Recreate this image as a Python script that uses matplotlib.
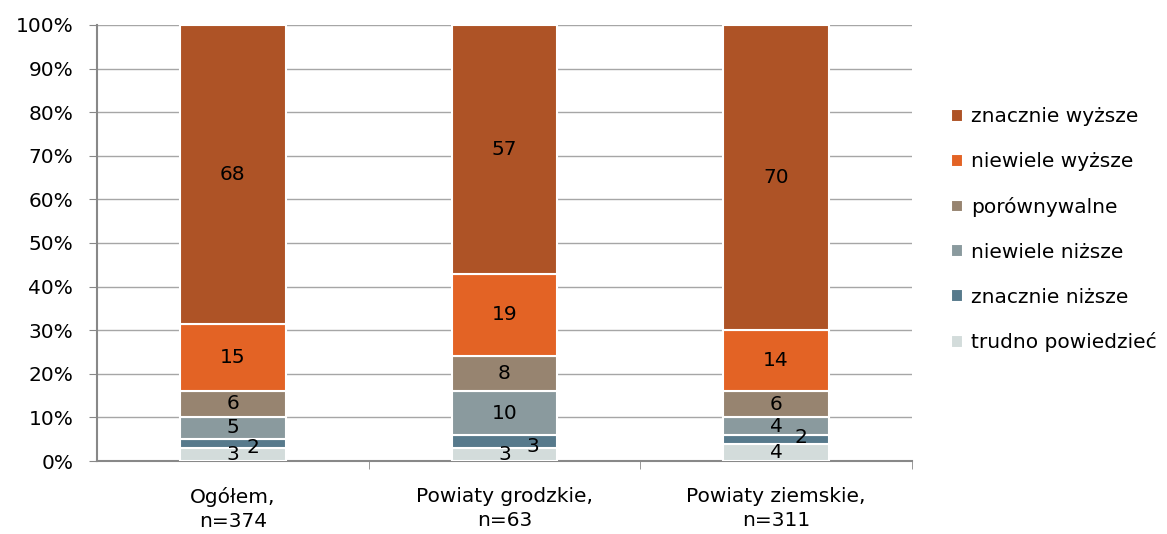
import matplotlib.pyplot as plt
import numpy as np

categories = ['Ogółem,\nn=374', 'Powiaty grodzkie,\nn=63', 'Powiaty ziemskie,\nn=311']
series = ['trudno powiedzieć', 'znacznie niższe', 'niewiele niższe',
          'porównywalne', 'niewiele wyższe', 'znacznie wyższe']
trudno = [3, 3, 4]
zn_nizsze = [2, 3, 2]
nw_nizsze = [5, 10, 4]
porown = [6, 8, 6]
nw_wyzsze = [15, 19, 14]
zn_wyzsze = [68, 57, 70]
colors = ['#D3DCDB', '#577A8C', '#8A9A9E', '#978470', '#E36325', '#AE5326']

# hand-moved labels (pixel offsets) for the thin "znacznie niższe" segments
label_shift = {(1, 0): (20, -4), (1, 1): (28, -5), (1, 2): (25, 2)}

plt.rcParams['font.family'] = ['DejaVu Sans']
fs = 14.5
fig = plt.figure(figsize=(11.67, 5.34), dpi=100)
ax = fig.add_axes([0.0831, 0.1367, 0.6984, 0.8165])

data = np.array([trudno, zn_nizsze, nw_nizsze, porown, nw_wyzsze, zn_wyzsze], dtype=float)
shares = data / data.sum(axis=0) * 100
x = np.arange(len(categories))
bottom = np.zeros(len(categories))
handles = []
for i, name in enumerate(series):
    h = ax.bar(x, shares[i], 0.39, bottom=bottom, color=colors[i],
               edgecolor='white', linewidth=1.5, label=name, zorder=3)
    handles.append(h)
    for j in range(len(categories)):
        dx, dy = label_shift.get((i, j), (0, 0))
        ax.annotate(str(int(data[i, j])), (x[j], bottom[j] + shares[i, j] / 2),
                    xytext=(dx * 0.72, dy * 0.72), textcoords='offset points',
                    ha='center', va='center', fontsize=fs, zorder=5)
    bottom += shares[i]

ax.set_xlim(-0.5, 2.5)
ax.set_ylim(0, 100)
ax.set_yticks(np.arange(0, 101, 10))
ax.set_yticklabels([f'{v}%' for v in range(0, 101, 10)], fontsize=fs)
ax.set_xticks(x)
ax.set_xticklabels(categories, fontsize=fs, linespacing=1.3)
ax.set_xticks([0.5, 1.5, 2.5], minor=True)
ax.tick_params(axis='x', which='major', length=0, pad=19)
ax.tick_params(axis='x', which='minor', length=6, color='#888888')
ax.tick_params(axis='y', length=6, color='#888888', pad=11)
ax.grid(axis='y', color='#A6A6A6', linewidth=1, zorder=0)
for s in ['top', 'right']:
    ax.spines[s].set_visible(False)
for s in ['left', 'bottom']:
    ax.spines[s].set_color('#888888')
    ax.spines[s].set_linewidth(1.5)

ax.legend(handles[::-1], series[::-1], loc='center left', bbox_to_anchor=(1.025, 0.53),
          frameon=False, fontsize=fs, handlelength=0.6, handleheight=0.6,
          handletextpad=0.4, labelspacing=1.28)

fig.savefig('out.png', dpi=100)
